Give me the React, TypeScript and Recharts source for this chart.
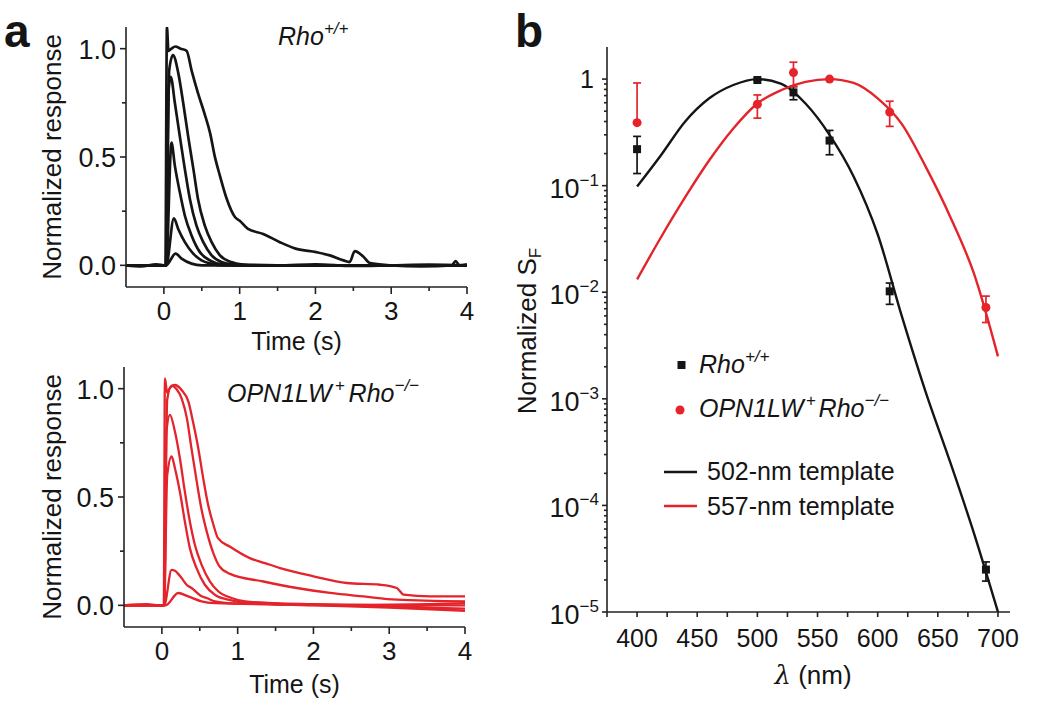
import React from "react";
import { ComposedChart, ErrorBar, Legend, Line, LineChart, Scatter, XAxis, YAxis } from "recharts";

const FONT = "'Liberation Sans', Arial, Helvetica, sans-serif";
const INK = "#151515";
const RED = "#e4232b";
const AXIS = "#222";

// panel a, Rho+/+ rods: [time (s), normalized response]
const rhoTraceA = [[-0.5, 0], [-0.3, -0.005], [-0.1, 0.005], [0.02, 0], [0.04, 1.1], [0.06, 0.99], [0.1, 1.0], [0.15, 1.01], [0.22, 1.0], [0.3, 0.99], [0.365, 0.9], [0.45, 0.795], [0.54, 0.696], [0.61, 0.61], [0.67, 0.505], [0.74, 0.413], [0.83, 0.306], [0.94, 0.222], [1.0, 0.206], [1.11, 0.168], [1.31, 0.145], [1.53, 0.107], [1.75, 0.076], [2.01, 0.061], [2.19, 0.046], [2.37, 0.023], [2.45, 0.015], [2.52, 0.066], [2.63, 0.041], [2.72, 0.01], [3.0, 0], [3.4, -0.005], [3.8, 0], [3.85, 0.02], [3.9, 0], [4, 0.005]];
const rhoTraceB = [[-0.5, 0], [0, 0], [0.03, 0], [0.07, 0.9], [0.12, 0.97], [0.19, 0.887], [0.255, 0.749], [0.32, 0.596], [0.39, 0.443], [0.45, 0.306], [0.54, 0.183], [0.63, 0.107], [0.74, 0.046], [0.89, 0.015], [1.02, 0.005], [1.5, 0], [2, 0.005], [2.5, -0.003], [3, 0], [3.5, 0.003], [4, 0]];
const rhoTraceC = [[-0.5, 0], [0.03, 0], [0.06, 0.8], [0.09, 0.87], [0.145, 0.749], [0.21, 0.596], [0.277, 0.443], [0.343, 0.306], [0.43, 0.183], [0.52, 0.107], [0.63, 0.046], [0.76, 0.015], [0.89, 0.005], [1.2, 0], [4, 0]];
const rhoTraceD = [[-0.5, 0], [0.03, 0], [0.1, 0.566], [0.145, 0.459], [0.211, 0.336], [0.277, 0.229], [0.365, 0.138], [0.475, 0.061], [0.607, 0.023], [0.76, 0.005], [1, 0], [4, 0]];
const rhoTraceE = [[-0.5, 0], [0.03, 0], [0.132, 0.217], [0.189, 0.168], [0.277, 0.107], [0.387, 0.054], [0.497, 0.023], [0.629, 0.007], [0.8, 0], [4, 0]];
const rhoTraceF = [[-0.5, 0], [0.03, 0], [0.154, 0.054], [0.233, 0.031], [0.365, 0.008], [0.5, 0], [4, 0]];

// panel a, OPN1LW+Rho-/- rods
const opnTraceA = [[-0.5, 0], [-0.2, 0.005], [0, 0], [0.025, 0], [0.04, 1.047], [0.07, 0.98], [0.1, 1.0], [0.17, 1.017], [0.26, 0.994], [0.35, 0.94], [0.41, 0.848], [0.48, 0.725], [0.545, 0.587], [0.61, 0.464], [0.68, 0.372], [0.74, 0.31], [0.9, 0.27], [1.16, 0.218], [1.36, 0.195], [1.56, 0.172], [2.0, 0.134], [2.44, 0.103], [2.88, 0.095], [3.1, 0.08], [3.19, 0.049], [3.54, 0.041], [4, 0.041]];
const opnTraceB = [[-0.5, 0], [0, 0], [0.03, 0], [0.07, 0.95], [0.13, 1.014], [0.19, 1.0], [0.26, 0.955], [0.33, 0.863], [0.39, 0.725], [0.46, 0.571], [0.52, 0.448], [0.6, 0.33], [0.68, 0.24], [0.76, 0.18], [0.9, 0.145], [1.34, 0.11], [1.78, 0.08], [2.22, 0.057], [2.66, 0.041], [3.1, 0.026], [4, 0.018]];
const opnTraceC = [[-0.5, 0], [0.03, 0], [0.06, 0.8], [0.106, 0.879], [0.172, 0.802], [0.237, 0.68], [0.303, 0.525], [0.369, 0.387], [0.435, 0.28], [0.523, 0.188], [0.633, 0.111], [0.743, 0.065], [0.919, 0.034], [1.1, 0.018], [1.5, 0.01], [2, 0.005], [2.5, 0], [3, -0.005], [3.5, -0.01], [4, -0.015]];
const opnTraceD = [[-0.5, 0], [0.03, 0], [0.07, 0.6], [0.128, 0.687], [0.172, 0.633], [0.237, 0.525], [0.303, 0.387], [0.369, 0.264], [0.457, 0.172], [0.567, 0.095], [0.699, 0.049], [0.875, 0.026], [1.05, 0.014], [1.5, 0.005], [2, 0], [3, -0.01], [4, -0.025]];
const opnTraceE = [[-0.5, 0], [0.03, 0], [0.128, 0.164], [0.172, 0.16], [0.26, 0.126], [0.326, 0.095], [0.392, 0.08], [0.523, 0.042], [0.59, 0.034], [0.7, 0.018], [0.875, 0.01], [1.5, 0.005], [2.5, 0], [4, 0.01]];
const opnTraceF = [[-0.5, 0], [0.05, 0], [0.215, 0.057], [0.348, 0.041], [0.523, 0.018], [0.7, 0.01], [1.5, 0.005], [4, 0]];

const rhoTraces = [rhoTraceA, rhoTraceB, rhoTraceC, rhoTraceD, rhoTraceE, rhoTraceF];
const opnTraces = [opnTraceA, opnTraceB, opnTraceC, opnTraceD, opnTraceE, opnTraceF];

const timeTicks = [0, 0.5, 1, 1.5, 2, 2.5, 3, 3.5, 4];
const responseTicks = [0, 0.25, 0.5, 0.75, 1];

// panel b, spectral templates
const templateWavelengths = [400, 420, 440, 460, 480, 500, 520, 540, 560, 580, 600, 620, 640, 660, 680, 700];
const template502 = [0.098, 0.194, 0.4, 0.66, 0.88, 1.0, 0.9, 0.59, 0.3, 0.122, 0.035, 0.006, 0.00115, 2.6e-4, 5.5e-5, 1.0e-5];
const template557 = [0.0132, 0.033, 0.078, 0.173, 0.344, 0.59, 0.79, 0.94, 1.0, 0.92, 0.66, 0.38, 0.15, 0.052, 0.015, 0.0025];

// panel b, measured S_F with [lower, upper] errors
const pointWavelengths = [400, 500, 530, 560, 610, 690];
const rhoSF = [0.22, 0.98, 0.75, 0.265, 0.0102, 2.5e-5];
const rhoErr = [[0.09, 0.07], [0, 0], [0.11, 0.1], [0.07, 0.065], [0.0025, 0.002], [0.55e-5, 0.45e-5]];
const opnSF = [0.39, 0.58, 1.15, 1.0, 0.49, 0.0072];
const opnErr = [[0, 0.53], [0.15, 0.13], [0.3, 0.29], [0, 0], [0.13, 0.13], [0.002, 0.002]];

const wavelengthTicks = [375, 400, 425, 450, 475, 500, 525, 550, 575, 600, 625, 650, 675, 700];
const sfDecades = [1e-5, 1e-4, 1e-3, 1e-2, 1e-1, 1];
const sfMinorSteps = [2, 3, 4, 5, 6, 7, 8, 9];
const sfTicks = [...sfDecades, ...sfDecades.slice(0, -1).flatMap((d) => sfMinorSteps.map((m) => m * d))].sort((a, b) => a - b);

const toPoints = (arr: number[][]) => arr.map(([t, v]) => ({ t, v }));
const templatePoints = (vals: number[]) => templateWavelengths.map((x, i) => ({ x, y: vals[i] }));
const measuredPoints = (vals: number[], errs: number[][]) => pointWavelengths.map((x, i) => ({ x, y: vals[i], err: errs[i] }));

const TimeTick = (p: any) => {
  const v = p.payload.value;
  const major = Number.isInteger(v);
  return (
    <g>
      <line x1={p.x} x2={p.x} y1={p.y} y2={p.y + (major ? 7 : 4)} stroke={AXIS} strokeWidth={1.6} />
      {major && (
        <text x={p.x} y={p.y + 33} textAnchor="middle" fontSize={26} fill={INK}>
          {v}
        </text>
      )}
    </g>
  );
};

const ResponseTick = (p: any) => {
  const v = p.payload.value;
  const major = Math.abs(v * 2 - Math.round(v * 2)) < 1e-6;
  return (
    <g>
      <line x1={p.x} x2={p.x - (major ? 6 : 4)} y1={p.y} y2={p.y} stroke={AXIS} strokeWidth={1.6} />
      {major && (
        <text x={p.x - 10} y={p.y + 10} textAnchor="end" fontSize={27} fill={INK}>
          {v.toFixed(1)}
        </text>
      )}
    </g>
  );
};

const WavelengthTick = (p: any) => {
  const v = p.payload.value;
  const major = v % 50 === 0;
  return (
    <g>
      <line x1={p.x} x2={p.x} y1={p.y} y2={p.y + 5} stroke={AXIS} strokeWidth={1.6} />
      {major && (
        <text x={p.x} y={p.y + 35} textAnchor="middle" fontSize={25} fill={INK}>
          {v}
        </text>
      )}
    </g>
  );
};

const SfTick = (p: any) => {
  const v = p.payload.value;
  const lg = Math.log10(v);
  const exp = Math.round(lg);
  const major = Math.abs(lg - exp) < 1e-6;
  return (
    <g>
      <line x1={p.x} x2={p.x - (major ? 5 : 3)} y1={p.y} y2={p.y} stroke={AXIS} strokeWidth={1.6} />
      {major && exp === 0 && (
        <text x={p.x - 13} y={p.y + 9} textAnchor="end" fontSize={25} fill={INK}>
          1
        </text>
      )}
      {major && exp !== 0 && (
        <text x={p.x - 8} y={p.y + 12} textAnchor="end" fontSize={27} fill={INK}>
          <tspan>10</tspan>
          <tspan dy={-12} fontSize={17}>{`\u2212${-exp}`}</tspan>
        </text>
      )}
    </g>
  );
};

const rotatedLabel = (cx: number, cy: number, body: React.ReactNode) => () => (
  <text x={cx} y={cy} transform={`rotate(-90 ${cx} ${cy})`} textAnchor="middle" fontSize={26} fill={INK}>
    {body}
  </text>
);

const flatLabel = (cx: number, baseline: number, body: React.ReactNode, size = 25) => () => (
  <text x={cx} y={baseline} textAnchor="middle" fontSize={size} fill={INK}>
    {body}
  </text>
);

const TracePanel = ({ traces, color, width, top, height, marginTop, axisWidth, right, xAxisHeight, labelY, labelBaseline }: any) => (
  <div style={{ position: "absolute", left: 0, top }}>
    <LineChart width={500} height={height} margin={{ top: marginTop, right, bottom: 0, left: 0 }}>
      <XAxis
        type="number"
        dataKey="t"
        domain={[-0.5, 4]}
        ticks={timeTicks}
        interval={0}
        allowDataOverflow
        height={xAxisHeight}
        tickSize={0}
        tickMargin={0}
        tickLine={false}
        tick={TimeTick}
        axisLine={{ stroke: AXIS, strokeWidth: 1.6 }}
        label={flatLabel((axisWidth + 500 - right) / 2, labelBaseline, "Time (s)")}
      />
      <YAxis
        type="number"
        domain={[-0.1, 1.1]}
        ticks={responseTicks}
        interval={0}
        allowDataOverflow
        width={axisWidth}
        tickSize={0}
        tickMargin={0}
        tickLine={false}
        tick={ResponseTick}
        axisLine={{ stroke: AXIS, strokeWidth: 1.6 }}
        label={rotatedLabel(61, labelY, "Normalized response")}
      />
      {traces.map((tr: number[][], i: number) => (
        <Line
          key={i}
          data={toPoints(tr)}
          dataKey="v"
          type="monotone"
          stroke={color}
          strokeWidth={width}
          dot={false}
          isAnimationActive={false}
        />
      ))}
    </LineChart>
  </div>
);

const squareShape = (p: any) => <rect x={p.cx - 4} y={p.cy - 4} width={8} height={8} fill={INK} />;
const circleShape = (p: any) => <circle cx={p.cx} cy={p.cy} r={4.5} fill={RED} />;

const SpectrumLegend = () => (
  <svg width={300} height={190} style={{ fontFamily: FONT }}>
    <rect x={27.5} y={21} width={8} height={8} fill={INK} />
    <text x={49} y={33} fontSize={25} fontStyle="italic" fill={INK}>
      <tspan>Rho</tspan>
      <tspan dy={-11} fontSize={17}>+/+</tspan>
    </text>
    <circle cx={30} cy={70} r={4.5} fill={RED} />
    <text x={49} y={77} fontSize={25} fontStyle="italic" fill={INK}>
      <tspan>OPN1LW</tspan>
      <tspan dy={-11} dx={2} fontSize={17}>+</tspan>
      <tspan dy={11} dx={3}>Rho</tspan>
      <tspan dy={-11} fontSize={17}>{"\u2212/\u2212"}</tspan>
    </text>
    <line x1={14} x2={47} y1={132} y2={132} stroke={INK} strokeWidth={2.4} />
    <text x={57} y={140} fontSize={25} fill={INK}>502-nm template</text>
    <line x1={14} x2={47} y1={166} y2={166} stroke={RED} strokeWidth={2.4} />
    <text x={57} y={175} fontSize={25} fill={INK}>557-nm template</text>
  </svg>
);

export default function App() {
  return (
    <div style={{ position: "absolute", left: 0, top: 0, width: 1050, height: 708, background: "#fff", fontFamily: FONT }}>
      <TracePanel
        traces={rhoTraces}
        color={INK}
        width={2.7}
        top={0}
        height={360}
        marginTop={27}
        axisWidth={126}
        right={33}
        xAxisHeight={73}
        labelY={157}
        labelBaseline={350}
      />
      <TracePanel
        traces={opnTraces}
        color={RED}
        width={2.3}
        top={330}
        height={378}
        marginTop={37}
        axisWidth={124}
        right={35}
        xAxisHeight={81}
        labelY={167}
        labelBaseline={363}
      />
      <div style={{ position: "absolute", left: 500, top: 0 }}>
        <ComposedChart width={550} height={708} margin={{ top: 47, right: 40, bottom: 0, left: 0 }}>
          <XAxis
            type="number"
            dataKey="x"
            domain={[375, 710]}
            ticks={wavelengthTicks}
            interval={0}
            allowDataOverflow
            height={96}
            tickSize={0}
            tickMargin={0}
            tickLine={false}
            tick={WavelengthTick}
            axisLine={{ stroke: AXIS, strokeWidth: 1.6 }}
            label={flatLabel(313, 684, (
              <>
                <tspan fontStyle="italic" fontFamily="'DejaVu Serif', serif">λ</tspan>
                <tspan> (nm)</tspan>
              </>
            ), 26)}
          />
          <YAxis
            type="number"
            dataKey="y"
            scale="log"
            domain={[1e-5, 2]}
            ticks={sfTicks}
            interval={0}
            allowDataOverflow
            width={107}
            tickSize={0}
            tickMargin={0}
            tickLine={false}
            tick={SfTick}
            axisLine={{ stroke: AXIS, strokeWidth: 1.6 }}
            label={rotatedLabel(36, 331, (
              <>
                <tspan>Normalized S</tspan>
                <tspan dy={5} fontSize={17}>F</tspan>
              </>
            ))}
          />
          <Line
            data={templatePoints(template502)}
            dataKey="y"
            name="502-nm template"
            type="monotone"
            stroke={INK}
            strokeWidth={2.4}
            dot={false}
            isAnimationActive={false}
          />
          <Line
            data={templatePoints(template557)}
            dataKey="y"
            name="557-nm template"
            type="monotone"
            stroke={RED}
            strokeWidth={2.4}
            dot={false}
            isAnimationActive={false}
          />
          <Scatter data={measuredPoints(rhoSF, rhoErr)} dataKey="y" name="Rho+/+" shape={squareShape} isAnimationActive={false}>
            <ErrorBar dataKey="err" direction="y" width={4} stroke={INK} strokeWidth={1.7} isAnimationActive={false} />
          </Scatter>
          <Scatter data={measuredPoints(opnSF, opnErr)} dataKey="y" name="OPN1LW+Rho-/-" shape={circleShape} isAnimationActive={false}>
            <ErrorBar dataKey="err" direction="y" width={4} stroke={RED} strokeWidth={1.7} isAnimationActive={false} />
          </Scatter>
          <Legend
            layout="horizontal"
            verticalAlign="middle"
            content={SpectrumLegend}
            wrapperStyle={{ left: 150, top: 340, width: 300, height: 190 }}
          />
        </ComposedChart>
      </div>
      <svg width={1050} height={708} style={{ position: "absolute", left: 0, top: 0, pointerEvents: "none" }}>
        <text x={4} y={47} fontSize={46} fontWeight="bold" fill={INK}>a</text>
        <text x={515} y={47} fontSize={46} fontWeight="bold" fill={INK}>b</text>
        <text x={278} y={45} fontSize={25} fontStyle="italic" fill={INK}>
          <tspan>Rho</tspan>
          <tspan dy={-11} fontSize={17}>+/+</tspan>
        </text>
        <text x={227} y={402} fontSize={25} fontStyle="italic" fill={INK}>
          <tspan>OPN1LW</tspan>
          <tspan dy={-11} dx={3} fontSize={17}>+</tspan>
          <tspan dy={11} dx={4}>Rho</tspan>
          <tspan dy={-11} fontSize={17}>{"\u2212/\u2212"}</tspan>
        </text>
      </svg>
    </div>
  );
}
